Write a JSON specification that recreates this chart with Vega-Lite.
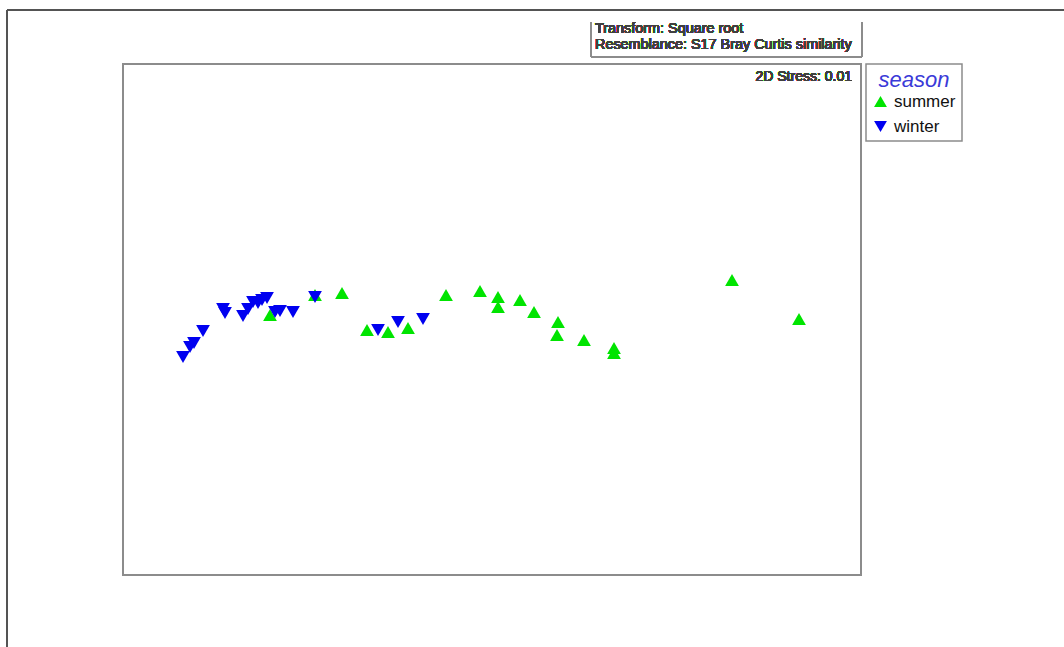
{
  "$schema": "https://vega.github.io/schema/vega-lite/v6.json",
  "width": 738,
  "height": 511,
  "autosize": {"type": "none"},
  "padding": {"left": 123, "top": 64, "right": 203, "bottom": 72},
  "background": "#ffffff",
  "usermeta": {"embedOptions": {"actions": false}},
  "config": {
    "view": {"stroke": "#8c8c8c", "strokeWidth": 2},
    "font": "Liberation Sans",
    "legend": {
      "orient": "none",
      "legendX": 743,
      "legendY": 0,
      "strokeColor": "#8c8c8c",
      "strokeWidth": 1.5,
      "padding": 6,
      "titleFont": "Liberation Sans",
      "titleFontStyle": "italic",
      "titleFontWeight": "normal",
      "titleFontSize": 22,
      "titleColor": "#3a3ad8",
      "titleAnchor": "middle",
      "titlePadding": 1,
      "labelFont": "Liberation Sans",
      "labelFontSize": 17,
      "labelColor": "#111111",
      "labelOffset": 5,
      "symbolSize": 165,
      "symbolStrokeWidth": 0,
      "rowPadding": 7
    }
  },
  "data": {
    "values": [
      {"MDS1": -2.22, "MDS2": 0.05, "season": "summer"},
      {"MDS1": -1.77, "MDS2": 0.25, "season": "summer"},
      {"MDS1": -1.50, "MDS2": 0.27, "season": "summer"},
      {"MDS1": -1.25, "MDS2": -0.10, "season": "summer"},
      {"MDS1": -1.04, "MDS2": -0.12, "season": "summer"},
      {"MDS1": -0.84, "MDS2": -0.08, "season": "summer"},
      {"MDS1": -0.46, "MDS2": 0.25, "season": "summer"},
      {"MDS1": -0.12, "MDS2": 0.29, "season": "summer"},
      {"MDS1": 0.06, "MDS2": 0.23, "season": "summer"},
      {"MDS1": 0.06, "MDS2": 0.13, "season": "summer"},
      {"MDS1": 0.28, "MDS2": 0.20, "season": "summer"},
      {"MDS1": 0.42, "MDS2": 0.08, "season": "summer"},
      {"MDS1": 0.66, "MDS2": -0.02, "season": "summer"},
      {"MDS1": 0.65, "MDS2": -0.15, "season": "summer"},
      {"MDS1": 0.92, "MDS2": -0.20, "season": "summer"},
      {"MDS1": 1.22, "MDS2": -0.28, "season": "summer"},
      {"MDS1": 1.22, "MDS2": -0.33, "season": "summer"},
      {"MDS1": 2.40, "MDS2": 0.40, "season": "summer"},
      {"MDS1": 3.07, "MDS2": 0.01, "season": "summer"},
      {"MDS1": -3.09, "MDS2": -0.37, "season": "winter"},
      {"MDS1": -3.02, "MDS2": -0.27, "season": "winter"},
      {"MDS1": -2.98, "MDS2": -0.23, "season": "winter"},
      {"MDS1": -2.89, "MDS2": -0.11, "season": "winter"},
      {"MDS1": -2.69, "MDS2": 0.11, "season": "winter"},
      {"MDS1": -2.67, "MDS2": 0.07, "season": "winter"},
      {"MDS1": -2.49, "MDS2": 0.04, "season": "winter"},
      {"MDS1": -2.44, "MDS2": 0.11, "season": "winter"},
      {"MDS1": -2.39, "MDS2": 0.18, "season": "winter"},
      {"MDS1": -2.34, "MDS2": 0.17, "season": "winter"},
      {"MDS1": -2.30, "MDS2": 0.20, "season": "winter"},
      {"MDS1": -2.25, "MDS2": 0.22, "season": "winter"},
      {"MDS1": -2.17, "MDS2": 0.08, "season": "winter"},
      {"MDS1": -2.12, "MDS2": 0.09, "season": "winter"},
      {"MDS1": -1.99, "MDS2": 0.08, "season": "winter"},
      {"MDS1": -1.77, "MDS2": 0.23, "season": "winter"},
      {"MDS1": -1.14, "MDS2": -0.10, "season": "winter"},
      {"MDS1": -0.94, "MDS2": -0.02, "season": "winter"},
      {"MDS1": -0.69, "MDS2": 0.01, "season": "winter"}
    ]
  },
  "layer": [
    {
      "mark": {"type": "point", "filled": true, "opacity": 1, "size": 190, "strokeWidth": 0},
      "encoding": {
        "x": {"field": "MDS1", "type": "quantitative", "scale": {"domain": [-3.69, 3.69], "nice": false, "zero": false}, "axis": null},
        "y": {"field": "MDS2", "type": "quantitative", "scale": {"domain": [-2.55, 2.56], "nice": false, "zero": false}, "axis": null},
        "color": {"field": "season", "type": "nominal", "scale": {"domain": ["summer", "winter"], "range": ["#00e400", "#0000f0"]}, "legend": {"title": "season"}},
        "shape": {"field": "season", "type": "nominal", "scale": {"domain": ["summer", "winter"], "range": ["triangle-up", "triangle-down"]}, "legend": {"title": "season"}}
      }
    },
    {
      "mark": {"type": "text", "align": "right", "baseline": "alphabetic", "font": "Liberation Sans", "fontWeight": "normal", "fontSize": 14, "fill": "#404040", "strokeWidth": 0},
      "encoding": {
        "x": {"datum": 3.60, "type": "quantitative"},
        "y": {"datum": 2.39, "type": "quantitative"},
        "text": {"value": "2D Stress: 0.01"}
      }
    },
    {
      "mark": {"type": "text", "align": "left", "baseline": "alphabetic", "font": "Liberation Sans", "fontWeight": "normal", "fontSize": 14.4, "fill": "#404040", "strokeWidth": 0},
      "encoding": {
        "x": {"datum": 1.03, "type": "quantitative"},
        "y": {"datum": 2.87, "type": "quantitative"},
        "text": {"value": "Transform: Square root"}
      }
    },
    {
      "mark": {"type": "text", "align": "left", "baseline": "alphabetic", "font": "Liberation Sans", "fontWeight": "normal", "fontSize": 14.4, "fill": "#404040", "strokeWidth": 0},
      "encoding": {
        "x": {"datum": 1.03, "type": "quantitative"},
        "y": {"datum": 2.71, "type": "quantitative"},
        "text": {"value": "Resemblance: S17 Bray Curtis similarity"}
      }
    },
    {
      "mark": {"type": "rule", "color": "#8c8c8c", "strokeWidth": 1.5},
      "encoding": {
        "x": {"datum": 0.99, "type": "quantitative"},
        "y": {"datum": 2.98, "type": "quantitative"},
        "y2": {"datum": 2.63}
      }
    },
    {
      "mark": {"type": "rule", "color": "#8c8c8c", "strokeWidth": 1.5},
      "encoding": {
        "x": {"datum": 3.70, "type": "quantitative"},
        "y": {"datum": 2.98, "type": "quantitative"},
        "y2": {"datum": 2.63}
      }
    },
    {
      "mark": {"type": "rule", "color": "#8c8c8c", "strokeWidth": 1.5},
      "encoding": {
        "x": {"datum": 0.99, "type": "quantitative"},
        "x2": {"datum": 3.70},
        "y": {"datum": 2.63, "type": "quantitative"}
      }
    },
    {
      "mark": {"type": "rule", "color": "#555555", "strokeWidth": 1.5},
      "encoding": {
        "x": {"datum": -4.85, "type": "quantitative"},
        "x2": {"datum": 5.8},
        "y": {"datum": 3.10, "type": "quantitative"}
      }
    },
    {
      "mark": {"type": "rule", "color": "#555555", "strokeWidth": 1.5},
      "encoding": {
        "x": {"datum": -4.85, "type": "quantitative"},
        "y": {"datum": 3.10, "type": "quantitative"},
        "y2": {"datum": -3.4}
      }
    }
  ]
}
